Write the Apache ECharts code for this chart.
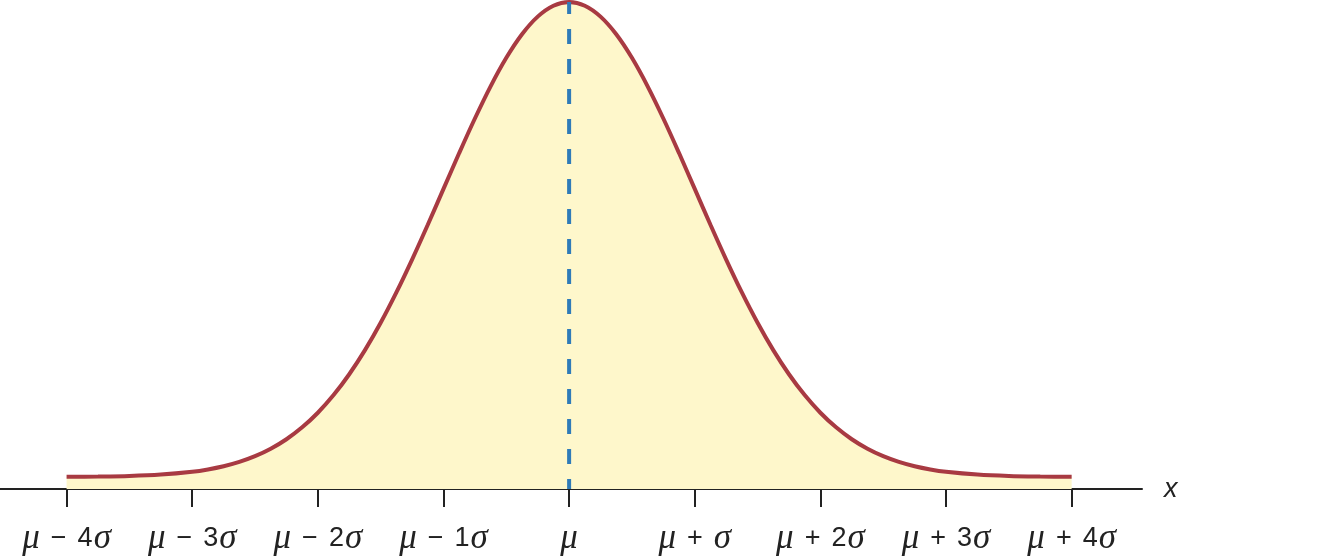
<!DOCTYPE html>
<html><head><meta charset="utf-8">
<script src="https://cdn.jsdelivr.net/npm/echarts@6/dist/echarts.min.js"></script>
<style>html,body{margin:0;padding:0;background:#fff}#c{width:1328px;height:556px}</style>
</head><body><div id="c"></div>
<script>
// z positions (in sigma units) and curve heights (0..100, axis = 0)
const zValues = [-4,-3.75,-3.5,-3.25,-3,-2.875,-2.75,-2.625,-2.5,-2.375,-2.25,-2.125,-2,-1.875,-1.75,-1.625,
                 -1.5,-1.375,-1.25,-1.125,-1,-0.875,-0.75,-0.625,-0.5,-0.375,-0.25,-0.125,0,
                 0.125,0.25,0.375,0.5,0.625,0.75,0.875,1,1.125,1.25,1.375,1.5,1.625,1.75,1.875,
                 2,2.125,2.25,2.375,2.5,2.625,2.75,2.875,3,3.25,3.5,3.75,4];
const heights = [2.49,2.55,2.67,2.96,3.54,4.02,4.68,5.57,6.74,8.27,10.22,12.66,15.66,19.28,23.56,28.51,
                 34.13,40.36,47.11,54.26,61.62,68.98,76.08,82.69,88.54,93.38,97.0,99.24,100,
                 99.24,97.0,93.38,88.54,82.69,76.08,68.98,61.62,54.26,47.11,40.36,34.13,28.51,23.56,19.28,
                 15.66,12.66,10.22,8.27,6.74,5.57,4.68,4.02,3.54,2.96,2.67,2.55,2.49];
const tickValues = [-4,-3,-2,-1,0,1,2,3,4];
const tickLabels = ['{i|μ}{o|−}{n|4}{i|σ}','{i|μ}{o|−}{n|3}{i|σ}','{i|μ}{o|−}{n|2}{i|σ}','{i|μ}{o|−}{n|1}{i|σ}','{i|μ}',
                    '{i|μ}{o|+}{i|σ}','{i|μ}{o|+}{n|2}{i|σ}','{i|μ}{o|+}{n|3}{i|σ}','{i|μ}{o|+}{n|4}{i|σ}'];
const meanLine = [[0,0],[0,100]];

const chart = echarts.init(document.getElementById('c'));
const FONT = '"Liberation Sans", Arial, sans-serif';
chart.setOption({
  animation:false,
  grid:{left:0, top:2, width:1142, bottom:66, containLabel:false},
  xAxis:{
    type:'value', min:-4.53, max:4.56,
    name:'x', nameLocation:'end', nameGap:22,
    nameTextStyle:{fontFamily:FONT, fontStyle:'italic', fontSize:27, color:'#222', verticalAlign:'middle'},
    axisLine:{show:true, lineStyle:{color:'#222', width:2}},
    axisTick:{show:true, length:18, lineStyle:{color:'#222', width:2}, customValues:tickValues},
    splitLine:{show:false},
    axisLabel:{
      customValues:tickValues, margin:32,
      fontFamily:FONT, fontSize:26, color:'#222',
      formatter:(v)=>tickLabels[tickValues.indexOf(Math.round(v))],
      rich:{
        i:{fontFamily:'"Liberation Serif", serif', fontStyle:'italic', fontSize:35, color:'#222'},
        o:{fontFamily:FONT, fontSize:27, color:'#222', padding:[0,11,0,11]},
        n:{fontFamily:FONT, fontSize:27, color:'#222', padding:[0,1,0,0]}
      }
    }
  },
  yAxis:{type:'value', min:0, max:100, show:false, splitLine:{show:false}},
  series:[
    {type:'line', data:zValues.map((z,i)=>[z,heights[i]]), smooth:0.3, symbol:'none',
     lineStyle:{color:'#a83a42', width:4}, areaStyle:{color:'#fef7cb', opacity:1, origin:'start'}, z:2},
    {type:'line', data:meanLine, symbol:'none',
     lineStyle:{color:'#2f7bb8', width:4, type:[15,15], dashOffset:5}, z:3}
  ]
});
</script></body></html>
